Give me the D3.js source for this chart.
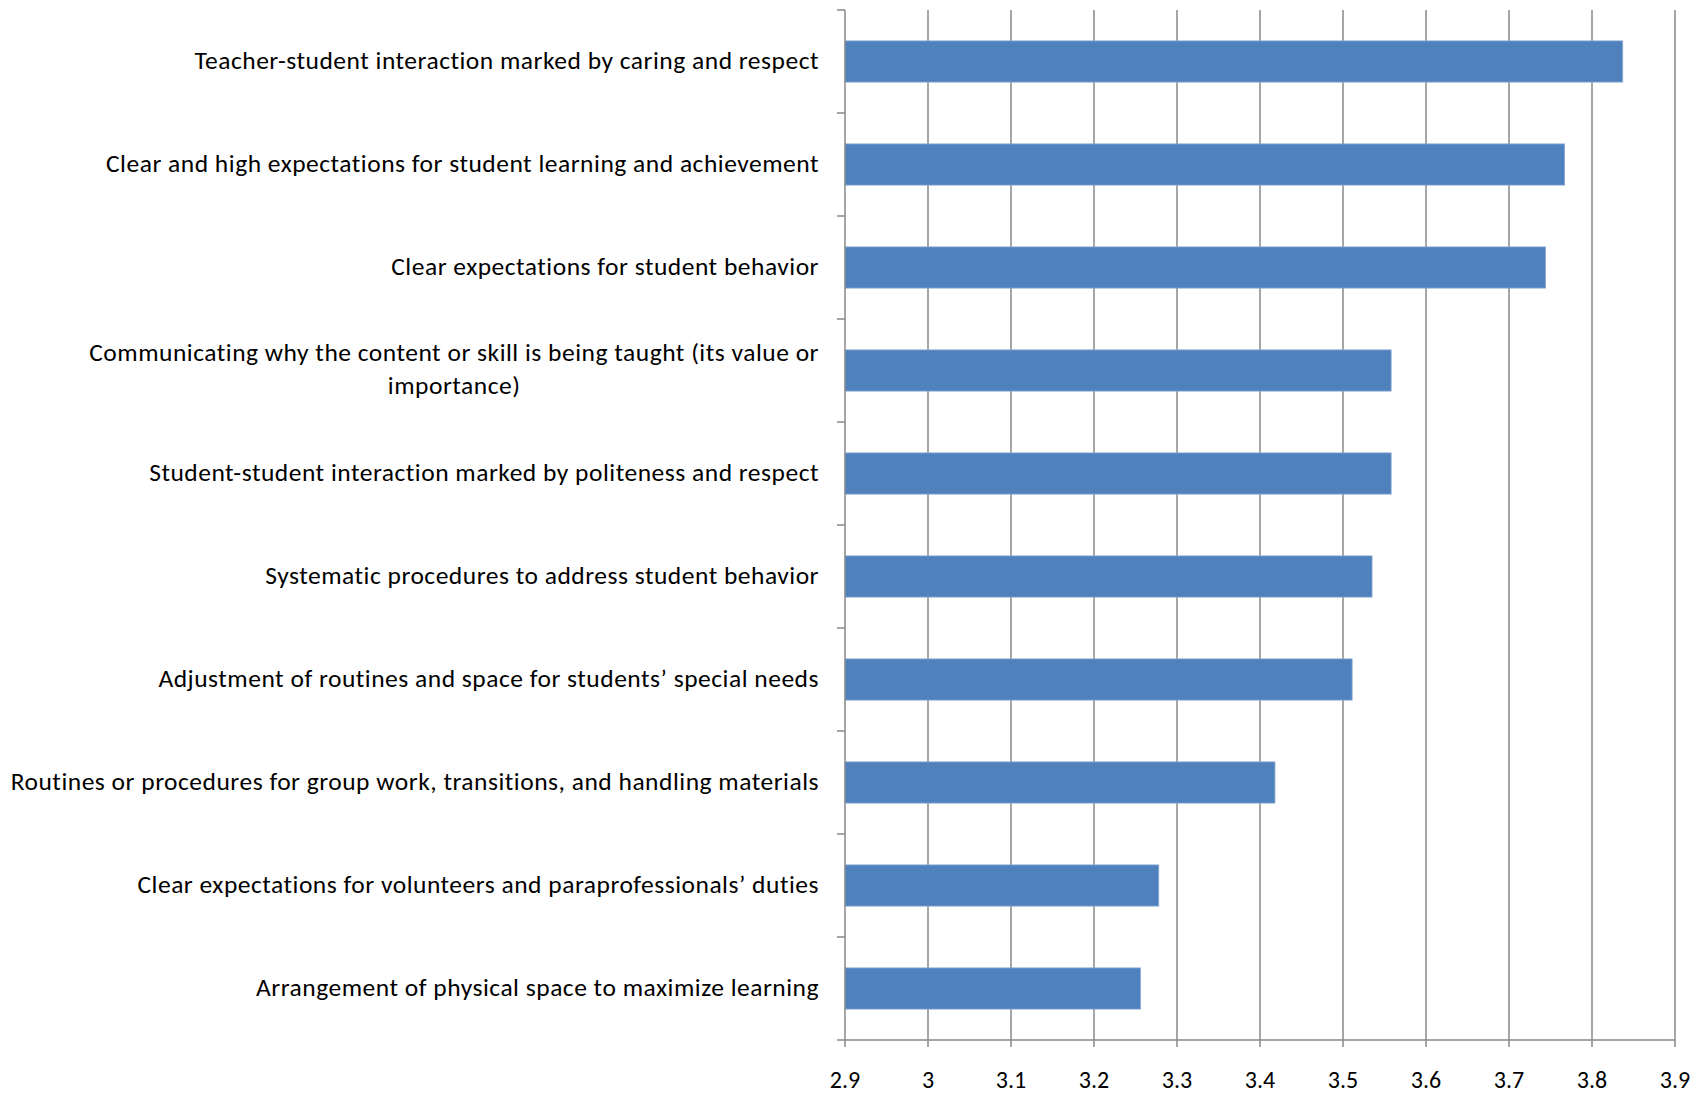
<!DOCTYPE html>
<html><head><meta charset="utf-8">
<script src="https://cdn.jsdelivr.net/npm/d3@7"></script>
<style>
body{margin:0;background:#fff;}
text{font-family:Carlito, Lato, "Open Sans", sans-serif;fill:#000;}
</style></head>
<body><svg id="c" width="1704" height="1096"></svg>
<script>
const categories = [
  "Teacher-student interaction marked by caring and respect",
  "Clear and high expectations for student learning and achievement",
  "Clear expectations for student behavior",
  "Communicating why the content or skill is being taught (its value or|importance)",
  "Student-student interaction marked by politeness and respect",
  "Systematic procedures to address student behavior",
  "Adjustment of routines and space for students\u2019 special needs",
  "Routines or procedures for group work, transitions, and handling materials",
  "Clear expectations for volunteers and paraprofessionals\u2019 duties",
  "Arrangement of physical space to maximize learning"
];
const values = [3.837, 3.767, 3.744, 3.558, 3.558, 3.535, 3.511, 3.418, 3.278, 3.256];
const xTicks = [2.9, 3, 3.1, 3.2, 3.3, 3.4, 3.5, 3.6, 3.7, 3.8, 3.9];

(function () {
const svg = d3.select("#c");
const pL = 845, pR = 1675, pT = 10, pB = 1040;
const x = d3.scaleLinear().domain([2.9, 3.9]).range([pL, pR]);
const y = d3.scaleBand().domain(d3.range(categories.length)).range([pT, pB]).paddingInner(0.6).paddingOuter(0.3);
const yb = d3.scaleBand().domain(d3.range(categories.length)).range([pT, pB]);
const gray = "#888888";

// font fit
const fs = 25.5;
const probe = svg.append("text").style("font-size", fs + "px").text(categories[7]);
const w = probe.node().getComputedTextLength();
probe.remove();
const ls = Math.max(0, (808 - w) / categories[7].length);

// gridlines
svg.append("g").selectAll("line").data(xTicks.slice(1)).join("line")
  .attr("x1", d => x(d)).attr("x2", d => x(d))
  .attr("y1", pT).attr("y2", pB + 7)
  .attr("stroke", gray).attr("stroke-width", 1.5);

// bars
svg.append("g").selectAll("rect").data(values).join("rect")
  .attr("x", x(2.9)).attr("y", (d, i) => y(i))
  .attr("width", d => x(d) - x(2.9)).attr("height", y.bandwidth())
  .attr("fill", "#4F81BD").attr("stroke", "#8AAAD3").attr("stroke-width", 0.8);

// left axis
svg.append("line").attr("x1", pL).attr("x2", pL).attr("y1", pT).attr("y2", pB + 7)
  .attr("stroke", gray).attr("stroke-width", 1.5);
svg.append("g").selectAll("line").data(d3.range(categories.length + 1)).join("line")
  .attr("x1", pL - 8).attr("x2", pL)
  .attr("y1", i => pT + i * yb.bandwidth()).attr("y2", i => pT + i * yb.bandwidth())
  .attr("stroke", gray).attr("stroke-width", 1.5);
// bottom axis
svg.append("line").attr("x1", pL).attr("x2", pR).attr("y1", pB).attr("y2", pB)
  .attr("stroke", gray).attr("stroke-width", 1.5);

// category labels
const lg = svg.append("g").style("letter-spacing", ls + "px");
categories.forEach((d, i) => {
  const lines = d.split("|");
  const cy = yb(i) + yb.bandwidth() / 2 - 1;
  if (lines.length === 1) {
    lg.append("text").attr("text-anchor", "end").style("font-size", fs + "px")
      .attr("x", 819).attr("y", cy).attr("dy", "0.35em").text(lines[0]);
  } else {
    const t = lg.append("text").attr("text-anchor", "end").style("font-size", fs + "px")
      .attr("x", 819).attr("y", cy - 17).attr("dy", "0.35em").text(lines[0]);
    const w0 = t.node().getComputedTextLength();
    lg.append("text").attr("text-anchor", "middle").style("font-size", fs + "px")
      .attr("x", 819 - w0 / 2).attr("y", cy + 16).attr("dy", "0.35em").text(lines[1]);
  }
});

// x tick labels
svg.append("g").selectAll("text").data(xTicks).join("text")
  .attr("text-anchor", "middle").style("font-size", "24px")
  .attr("x", d => x(d)).attr("y", 1080).attr("dy", "0.35em")
  .text(d => d3.format("")(d));
})();
</script></body></html>
